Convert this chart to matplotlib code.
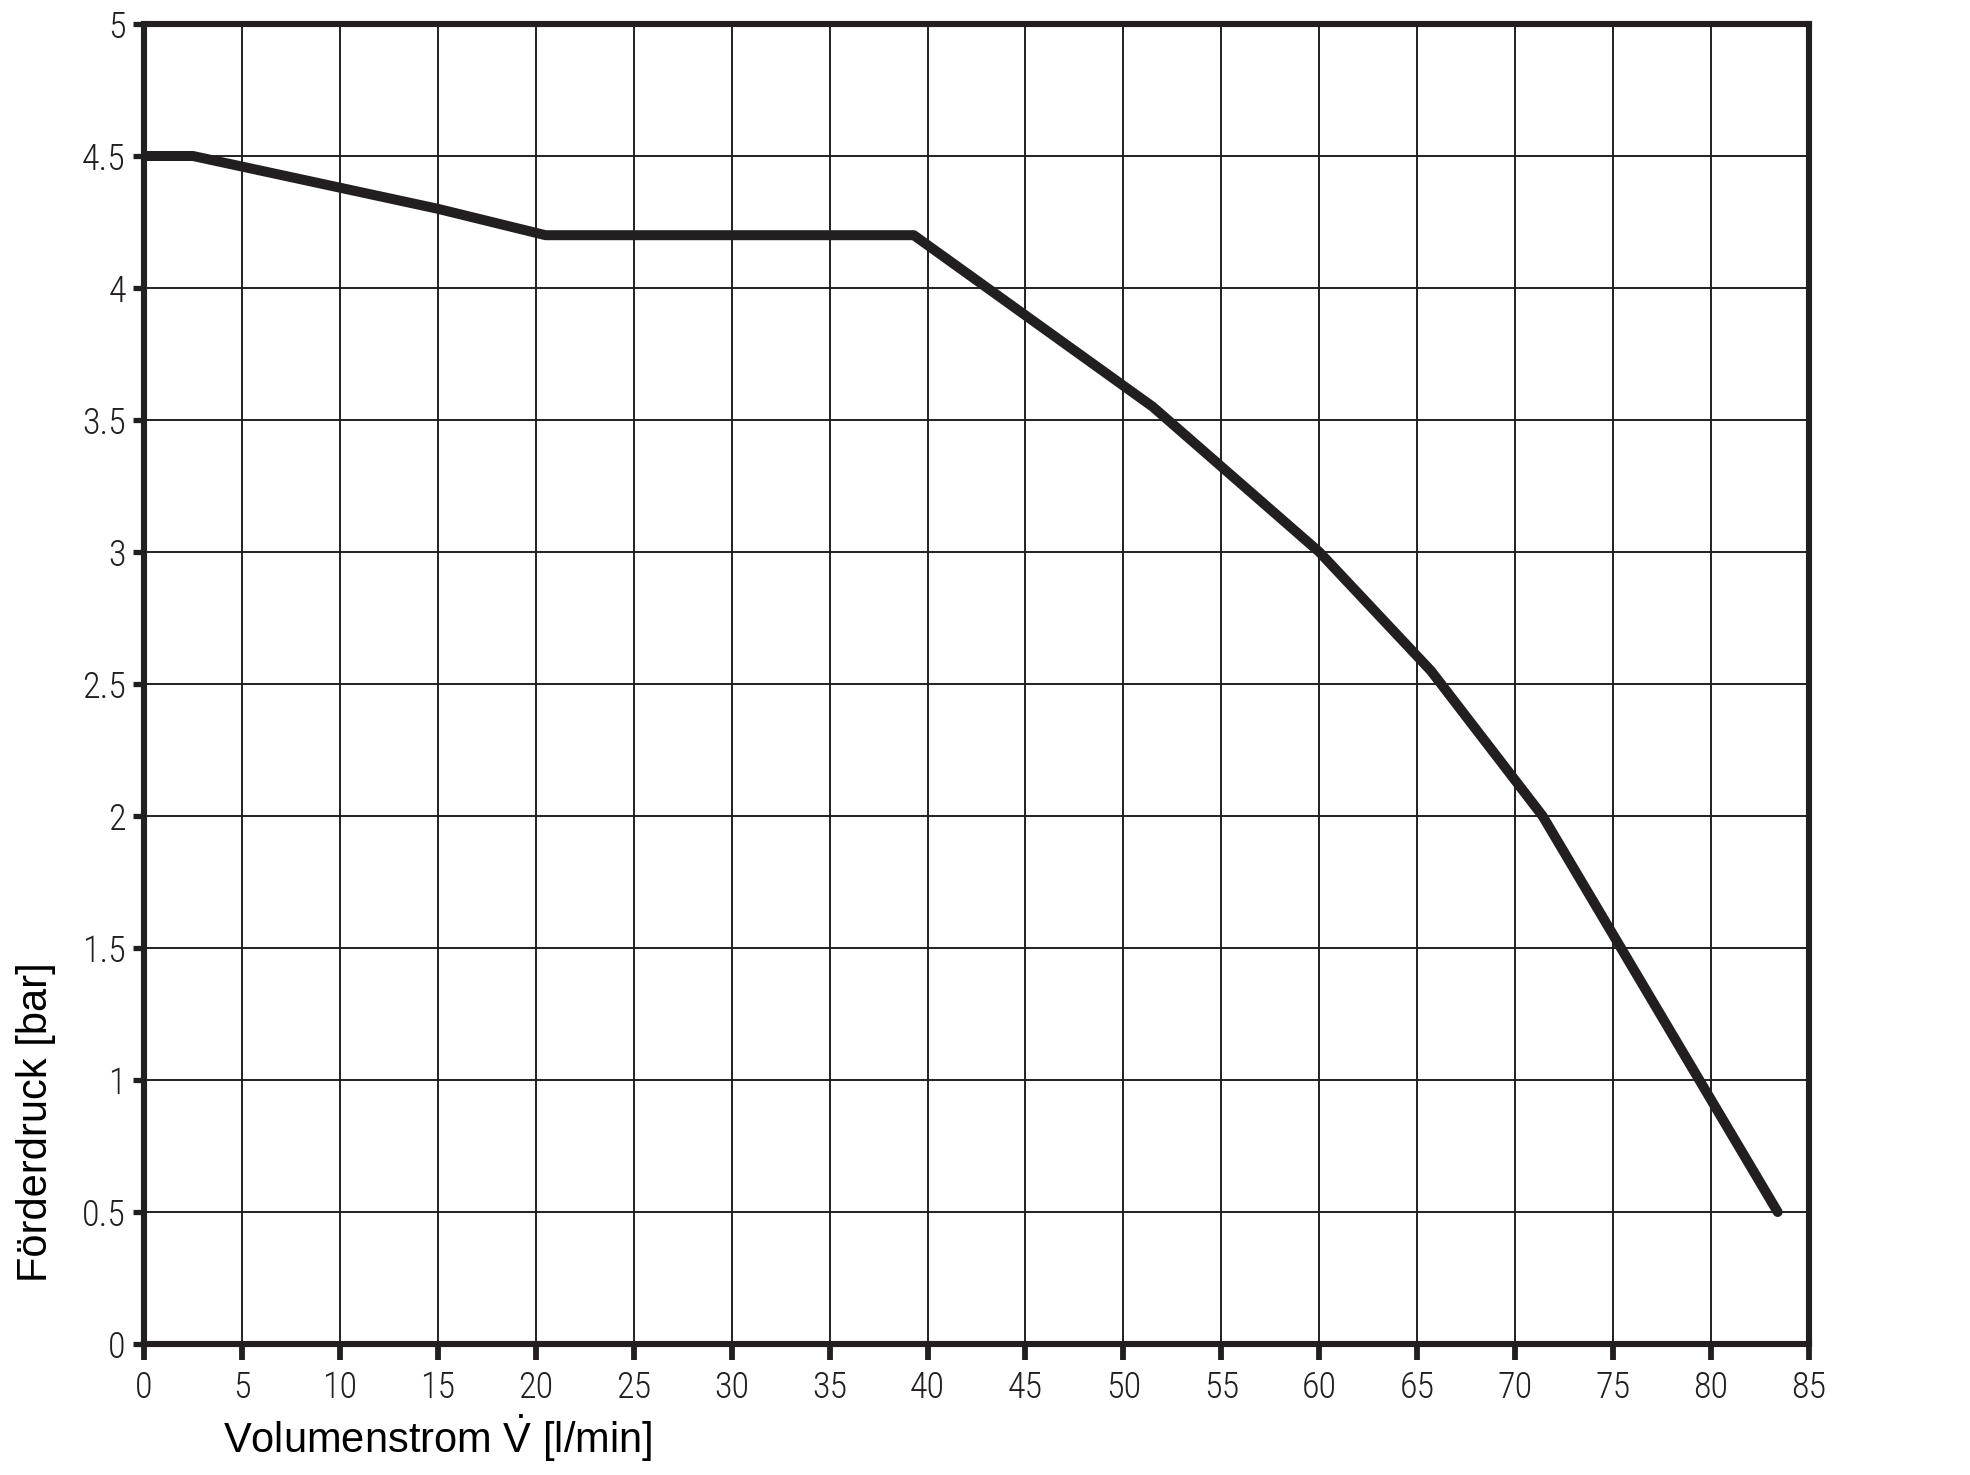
import numpy as np
import matplotlib
matplotlib.use("Agg")
import matplotlib.pyplot as plt

# pump curve
flow = [0, 2.5, 15, 20.5, 39.3, 51.5, 60, 65.7, 71.4, 83.4]
pressure = [4.5, 4.5, 4.3, 4.2, 4.2, 3.55, 3.0, 2.55, 2.0, 0.5]

x_ticks = np.arange(0, 86, 5)
y_ticks = [0, 0.5, 1, 1.5, 2, 2.5, 3, 3.5, 4, 4.5, 5]
y_labels = ["0", "0.5", "1", "1.5", "2", "2.5", "3", "3.5", "4", "4.5", "5"]

ink = "#231f20"
tick_font = ["Roboto Condensed", "Barlow Condensed", "DejaVu Sans"]

plt.rcParams["mathtext.fontset"] = "custom"
plt.rcParams["mathtext.rm"] = "Liberation Sans"
plt.rcParams["mathtext.it"] = "Liberation Sans:italic"

fig = plt.figure(figsize=(19.7, 14.75), dpi=100)
ax = fig.add_axes([144 / 1970, 1 - 1344 / 1475, (1809 - 144) / 1970, (1344 - 24) / 1475])

ax.plot(flow, pressure, color=ink, lw=7.2, solid_capstyle="round", zorder=3)

ax.set_xlim(0, 85)
ax.set_ylim(0, 5)
ax.set_xticks(x_ticks)
ax.set_yticks(y_ticks)
ax.set_xticklabels([str(v) for v in x_ticks], fontfamily=tick_font, fontweight="light",
                   fontsize=26, color=ink)
ax.set_yticklabels(y_labels, fontfamily=tick_font, fontweight="light", fontsize=26, color=ink)
ax.tick_params(axis="x", direction="out", length=11.5, width=4.2, color=ink, pad=7)
ax.tick_params(axis="y", direction="out", length=8, width=3.8, color=ink, pad=5)

ax.grid(True, color=ink, lw=1.4)
for s in ax.spines.values():
    s.set_linewidth(4.4)
    s.set_color(ink)

fig.text(223 / 1970, 1 - 1438 / 1475, r"Volumenstrom $\dot{\mathrm{V}}$ [l/min]",
         fontfamily="Liberation Sans", fontsize=30, color="black", ha="left", va="center")
fig.text(36 / 1970, 1 - 1122 / 1475, "Förderdruck [bar]", fontfamily="Liberation Sans",
         fontsize=30, color="black", ha="center", va="center", rotation=90)

fig.savefig("out.png", dpi=100)
